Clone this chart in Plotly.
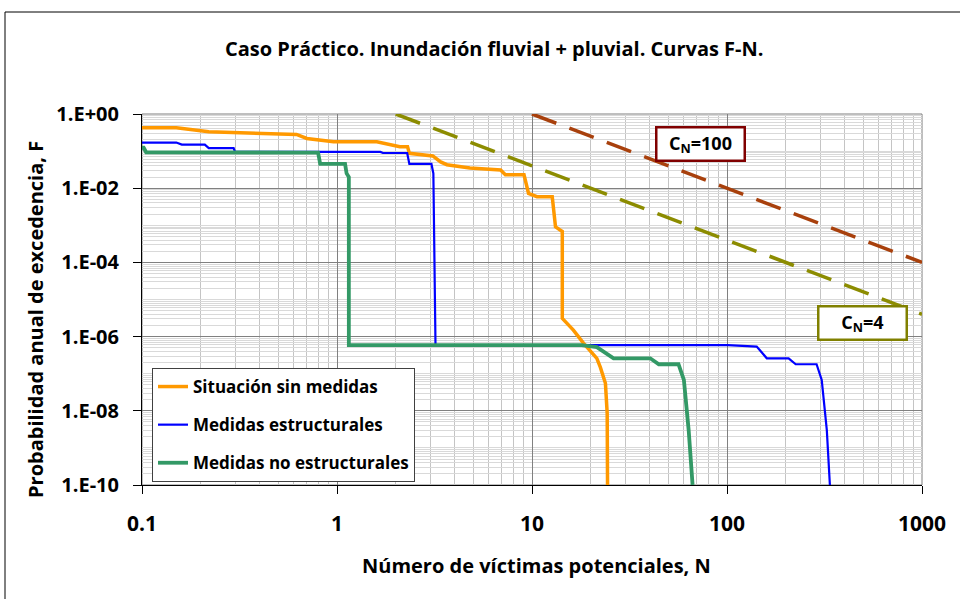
import plotly.graph_objects as go

# Situación sin medidas
n_sin = [0.1, 0.15, 0.22, 0.62, 0.70, 0.96, 1.6, 2.1, 2.3, 2.35, 3.1, 3.4, 3.66, 4.8, 6.9, 7.3,
         9.1, 9.6, 10.6, 12.7, 13.2, 14.3, 14.3, 16.3, 18.4, 21.5, 22.4, 23.8, 24.3, 24.4]
f_sin = [0.427, 0.427, 0.331, 0.282, 0.219, 0.178, 0.178, 0.132, 0.132, 0.087, 0.074, 0.051,
         0.043, 0.035, 0.031, 0.023, 0.023, 7.2e-3, 5.9e-3, 5.9e-3, 9.1e-4, 6.8e-4, 3.1e-6,
         1.5e-6, 6.6e-7, 2.6e-7, 1.5e-7, 5.5e-8, 8.5e-9, 1e-10]

# Medidas estructurales
n_est = [0.1, 0.15, 0.16, 0.21, 0.22, 0.295, 0.30, 1.67, 1.72, 2.29, 2.35, 3.05, 3.12, 3.2,
         101, 142, 160, 207, 225, 288, 306, 325, 337]
f_est = [0.17, 0.17, 0.15, 0.15, 0.12, 0.12, 0.095, 0.095, 0.089, 0.089, 0.045, 0.045, 0.025,
         5.9e-7, 5.9e-7, 5.4e-7, 2.6e-7, 2.6e-7, 1.8e-7, 1.8e-7, 6.8e-8, 3.0e-9, 1e-10]

# Medidas no estructurales
n_noest = [0.1, 0.102, 0.105, 0.6, 0.8, 0.82, 1.10, 1.12, 1.15, 1.15, 18, 21.5, 26.2, 40.4,
           44.7, 56.4, 60.1, 63.6, 66.6]
f_noest = [0.123, 0.123, 0.093, 0.093, 0.091, 0.045, 0.045, 0.025, 0.02, 5.9e-7, 5.9e-7,
           5.2e-7, 2.6e-7, 2.6e-7, 1.8e-7, 1.8e-7, 6.8e-8, 3.0e-9, 1e-10]

# Rectas criterio C_N
n_c100 = [10, 1000]
f_c100 = [1, 1e-4]
n_c4 = [2, 1000]
f_c4 = [1, 4e-6]

y_tickvals = [1, 1e-2, 1e-4, 1e-6, 1e-8, 1e-10]
y_ticktext = ["1.E+00", "1.E-02", "1.E-04", "1.E-06", "1.E-08", "1.E-10"]
x_tickvals = [0.1, 1, 10, 100, 1000]
x_ticktext = ["0.1", "1", "10", "100", "1000"]

FONT = "'Open Sans', 'Noto Sans', sans-serif"

fig = go.Figure()
fig.add_trace(go.Scatter(x=n_c100, y=f_c100, mode="lines", showlegend=False,
                         line=dict(color="#A8400C", width=3.5, dash="26px,14px")))
fig.add_trace(go.Scatter(x=n_c4, y=f_c4, mode="lines", showlegend=False,
                         line=dict(color="#8C8C00", width=3.5, dash="26px,14px")))
fig.add_trace(go.Scatter(x=n_sin, y=f_sin, mode="lines", name="Situación sin medidas",
                         legendgroup="a", line=dict(color="#FF9900", width=3.5)))
fig.add_trace(go.Scatter(x=n_est, y=f_est, mode="lines", name="Medidas estructurales",
                         legendgroup="b", line=dict(color="#0000FF", width=2.2)))
fig.add_trace(go.Scatter(x=n_noest, y=f_noest, mode="lines", name="Medidas no estructurales",
                         legendgroup="c", line=dict(color="#339966", width=3.8)))

W, H = 960, 599
L, R, T, B = 142, 922, 114, 485
pw, ph = R - L, B - T


def px(x):
    return (x - L) / pw


def py(y):
    return (B - y) / ph


def label(text, x, y, size, **kw):
    return dict(text=text, xref="paper", yref="paper", x=px(x), y=py(y),
                xanchor="center", yanchor="middle", showarrow=False,
                font=dict(size=size), **kw)


fig.update_layout(
    width=W, height=H,
    paper_bgcolor="white", plot_bgcolor="white",
    margin=dict(l=L, r=W - R, t=T, b=H - B),
    font=dict(family=FONT, size=16, color="black"),
    showlegend=True,
    legend=dict(x=px(152), y=py(368), xanchor="left", yanchor="top",
                bgcolor="white", bordercolor="#404040", borderwidth=1,
                font=dict(size=17, family=FONT, weight="bold"), tracegroupgap=13,
                itemwidth=30),
    xaxis=dict(type="log", range=[-1, 3], tickmode="array", tickvals=x_tickvals,
               ticktext=x_ticktext, tickfont=dict(size=21, weight="bold"),
               ticks="outside", ticklen=8, tickcolor="black", ticklabelstandoff=12,
               showline=True, linecolor="black", linewidth=1,
               showgrid=True, gridcolor="#808080", gridwidth=1, zeroline=False,
               minor=dict(dtick="D1", showgrid=True, gridcolor="#c4c4c4", gridwidth=1)),
    yaxis=dict(type="log", range=[-10, 0], tickmode="array", tickvals=y_tickvals,
               ticktext=y_ticktext, tickfont=dict(size=20, weight="bold"),
               ticks="outside", ticklen=8, tickcolor="black", ticklabelstandoff=10,
               showline=True, linecolor="black", linewidth=1,
               showgrid=True, gridcolor="#808080", gridwidth=1, zeroline=False,
               minor=dict(dtick="D1", showgrid=True, gridcolor="#d9d9d9", gridwidth=1)),
    shapes=[
        # borde del área de trazado
        dict(type="rect", xref="paper", yref="paper", x0=0, x1=1, y0=0, y1=1,
             line=dict(color="#7f7f7f", width=1), layer="below"),
        # marco del gráfico
        dict(type="rect", xref="paper", yref="paper", x0=px(5), x1=px(975), y0=py(620), y1=py(12),
             line=dict(color="black", width=1)),
    ],
    annotations=[
        label("<b>Caso Práctico. Inundación fluvial + pluvial. Curvas F-N.</b>", 493.5, 49, 20),
        label("<b>Probabilidad anual de excedencia, F</b>", 35, 320, 20, textangle=-90),
        label("<b>Número de víctimas potenciales, N</b>", 536, 565, 20),
        label("<b>C<sub>N</sub>=100</b>", 700, 144, 18, bgcolor="white",
              bordercolor="#800000", borderwidth=2.5, width=84, height=29),
        label("<b>C<sub>N</sub>=4</b>", 862.5, 322.5, 18, bgcolor="white",
              bordercolor="#808000", borderwidth=2.5, width=84, height=29),
    ],
)

fig.write_html("out.html", config={"displayModeBar": False},
               post_script="document.body.style.margin='0';")
